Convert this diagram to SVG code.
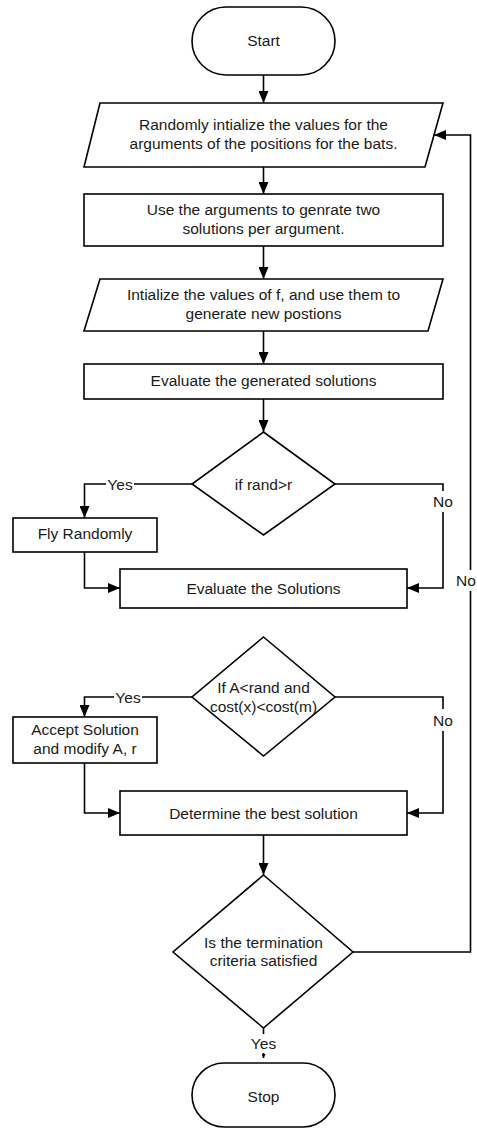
<svg xmlns="http://www.w3.org/2000/svg" width="477" height="1128" viewBox="0 0 477 1128">
<defs>
<marker id="ah" viewBox="0 0 12 10" refX="12" refY="5" markerWidth="12" markerHeight="10" markerUnits="userSpaceOnUse" orient="auto">
<path d="M0,0 L12,5 L0,10 Z" fill="#000"/>
</marker>
<marker id="ahs" viewBox="0 0 6 6" refX="6" refY="3" markerWidth="4" markerHeight="4" markerUnits="userSpaceOnUse" orient="auto">
<path d="M0,0 L6,3 L0,6 Z" fill="#000"/>
</marker>
</defs>
<style>
.s{fill:#fff;stroke:#000;stroke-width:1.6}
.t{font-family:"Liberation Sans",Arial,sans-serif;font-size:15.5px;fill:#1a1a1a;text-anchor:middle;dominant-baseline:central}
.c{fill:none;stroke:#000;stroke-width:1.6}
.a{marker-end:url(#ah)}
.bg{fill:#fff}
</style>
<rect width="477" height="1128" fill="#fff"/>
<g id="connectors">
<path class="c a" d="M263.5,75 V103"/>
<path class="c a" d="M263.5,167 V194"/>
<path class="c a" d="M263.5,246 V279"/>
<path class="c a" d="M263.5,331 V364"/>
<path class="c a" d="M263.5,399 V432"/>
<path class="c a" d="M192,484 H84.5 V518"/>
<path class="c" d="M335,484 H443 V491"/>
<path class="c a" d="M443,512 V588 H407"/>
<path class="c a" d="M84.5,552 V588 H120"/>
<path class="c a" d="M192,697 H84.5 V717"/>
<path class="c" d="M335,697 H443 V709"/>
<path class="c a" d="M443,731 V813 H407"/>
<path class="c a" d="M84.5,763 V813 H120"/>
<path class="c a" d="M263.5,835 V875"/>
<path class="c" d="M353,952 H470.5 V591"/>
<path class="c a" d="M470.5,570 V135 H434"/>
<path class="c" d="M263.5,1028 V1034"/>
<path class="c" d="M263.5,1053 V1058" style="marker-end:url(#ahs)"/>
<rect class="bg" x="106" y="476" width="28" height="16"/>
<text class="t" x="120" y="484">Yes</text>
<text class="t" x="443" y="501">No</text>
<rect class="bg" x="114" y="689" width="28" height="16"/>
<text class="t" x="128" y="697">Yes</text>
<text class="t" x="443" y="720">No</text>
<text class="t" x="466" y="580">No</text>
<text class="t" x="263.5" y="1043">Yes</text>
</g>
<g id="start">
<rect class="s" x="192" y="7" width="143" height="68" rx="34"/>
<text class="t" x="263.5" y="40">Start</text>
</g>
<g id="init">
<path class="s" d="M100,103 H443 L425,167 H84 Z"/>
<text class="t" x="263.5" y="124">Randomly intialize the values for the</text>
<text class="t" x="263.5" y="143">arguments of the positions for the bats.</text>
</g>
<g id="generate">
<rect class="s" x="84" y="194" width="359" height="52"/>
<text class="t" x="263.5" y="209">Use the arguments to genrate two</text>
<text class="t" x="263.5" y="228">solutions per argument.</text>
</g>
<g id="initf">
<path class="s" d="M100,279 H443 L428,331 H84 Z"/>
<text class="t" x="263.5" y="294">Intialize the values of f, and use them to</text>
<text class="t" x="263.5" y="313">generate new postions</text>
</g>
<g id="evalgen">
<rect class="s" x="84" y="364" width="359" height="35"/>
<text class="t" x="263.5" y="380">Evaluate the generated solutions</text>
</g>
<g id="dec1">
<path class="s" d="M263.5,432 L335,484 L263.5,535 L192,484 Z"/>
<text class="t" x="263.5" y="484">if rand&gt;r</text>
</g>
<g id="fly">
<rect class="s" x="13" y="518" width="144" height="34"/>
<text class="t" x="85" y="533">Fly Randomly</text>
</g>
<g id="evalsol">
<rect class="s" x="120" y="569" width="287" height="39"/>
<text class="t" x="263.5" y="588">Evaluate the Solutions</text>
</g>
<g id="dec2">
<path class="s" d="M263.5,637 L335,697 L263.5,756 L192,697 Z"/>
<text class="t" x="263.5" y="687">If A&lt;rand and</text>
<text class="t" x="263.5" y="706">cost(x)&lt;cost(m)</text>
</g>
<g id="accept">
<rect class="s" x="13" y="717" width="144" height="46"/>
<text class="t" x="85" y="729">Accept Solution</text>
<text class="t" x="85" y="748">and modify A, r</text>
</g>
<g id="best">
<rect class="s" x="120" y="791" width="287" height="44"/>
<text class="t" x="263.5" y="813">Determine the best solution</text>
</g>
<g id="dec3">
<path class="s" d="M263.5,875 L353,952 L263.5,1028 L173,952 Z"/>
<text class="t" x="263.5" y="942">Is the termination</text>
<text class="t" x="263.5" y="960">criteria satisfied</text>
</g>
<g id="stop">
<rect class="s" x="192" y="1063" width="143" height="64" rx="32"/>
<text class="t" x="263.5" y="1096">Stop</text>
</g>
</svg>
